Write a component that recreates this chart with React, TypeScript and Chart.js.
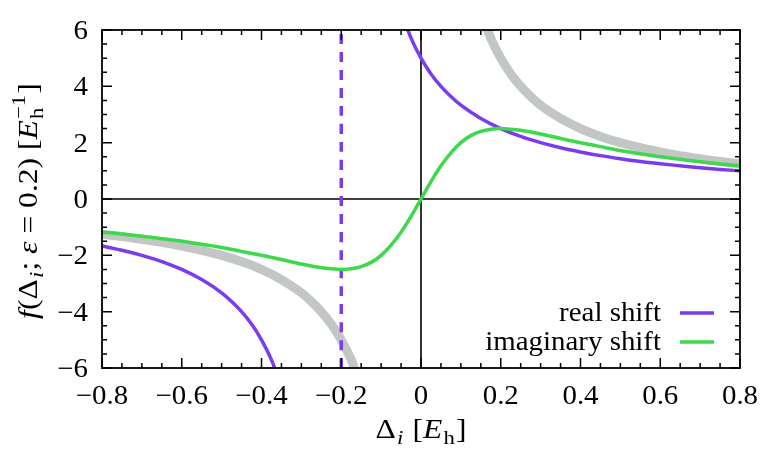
import React, { useEffect, useRef } from "react";
import { Chart, registerables } from "chart.js";

Chart.register(...registerables);

// ---- data ----
const imagX = [-0.8, -0.75, -0.7, -0.65, -0.6, -0.55, -0.5, -0.45, -0.4, -0.35, -0.3, -0.25, -0.225, -0.2, -0.175, -0.15, -0.125, -0.1, -0.075, -0.05, -0.025, 0, 0.025, 0.05, 0.075, 0.1, 0.125, 0.15, 0.175, 0.2, 0.225, 0.25, 0.3, 0.35, 0.4, 0.45, 0.5, 0.55, 0.6, 0.65, 0.7, 0.75, 0.8];
const imagY = [-1.18, -1.24, -1.32, -1.41, -1.5, -1.61, -1.72, -1.86, -2.0, -2.15, -2.31, -2.44, -2.48, -2.5, -2.48, -2.4, -2.25, -2.0, -1.64, -1.18, -0.62, 0, 0.62, 1.18, 1.64, 2.0, 2.25, 2.4, 2.48, 2.5, 2.48, 2.44, 2.31, 2.15, 2.0, 1.86, 1.72, 1.61, 1.5, 1.41, 1.32, 1.24, 1.18];

const realLeftX = [-0.8, -0.75, -0.7, -0.65, -0.6, -0.55, -0.5, -0.475, -0.45, -0.425, -0.4, -0.375, -0.35];
const realLeftY = [-1.67, -1.82, -2.0, -2.22, -2.5, -2.86, -3.33, -3.64, -4.0, -4.44, -5.0, -5.71, -6.67];
const realRightX = [-0.05, -0.025, 0, 0.025, 0.05, 0.075, 0.1, 0.15, 0.2, 0.25, 0.3, 0.35, 0.4, 0.45, 0.5, 0.55, 0.6, 0.65, 0.7, 0.75, 0.8];
const realRightY = [6.67, 5.71, 5.0, 4.44, 4.0, 3.64, 3.33, 2.86, 2.5, 2.22, 2.0, 1.82, 1.67, 1.54, 1.43, 1.33, 1.25, 1.18, 1.11, 1.05, 1.0];

const bareLeftX = [-0.8, -0.75, -0.7, -0.65, -0.6, -0.55, -0.5, -0.45, -0.4, -0.35, -0.3, -0.275, -0.25, -0.225, -0.2, -0.175, -0.15];
const bareLeftY = [-1.25, -1.33, -1.43, -1.54, -1.67, -1.82, -2.0, -2.22, -2.5, -2.86, -3.33, -3.64, -4.0, -4.44, -5.0, -5.71, -6.67];
const bareRightX = [0.15, 0.175, 0.2, 0.225, 0.25, 0.275, 0.3, 0.35, 0.4, 0.45, 0.5, 0.55, 0.6, 0.65, 0.7, 0.75, 0.8];
const bareRightY = [6.67, 5.71, 5.0, 4.44, 4.0, 3.64, 3.33, 2.86, 2.5, 2.22, 2.0, 1.82, 1.67, 1.54, 1.43, 1.33, 1.25];

const poleX = [-0.2, -0.2];
const poleY = [-6, 6];

const xRange = [-0.8, 0.8];
const yRange = [-6, 6];
const xStep = 0.2;
const yStep = 2;

const legendLabels = ["real shift", "imaginary shift"];

// ---- styles ----
const PURPLE = "#7b3cf0";
const GREEN = "#3ed84c";
const GRAY = "#c2c6c4";
const FONT = '"Liberation Serif", "Times New Roman", serif';
const FS = 27;
const HSCALE = 1.07;
const TITLE_HSCALE = 1.17;

type Seg = { t?: string; it?: boolean; sub?: string; subIt?: boolean; sup?: string };

const fontOf = (size: number, italic?: boolean) => `${italic ? "italic " : ""}${size}px ${FONT}`;

function segWidth(ctx: CanvasRenderingContext2D, s: Seg, size: number) {
  if (s.t !== undefined) {
    ctx.font = fontOf(size, s.it);
    return ctx.measureText(s.t).width;
  }
  const ss = size * 0.72;
  let w = 0;
  if (s.sub) { ctx.font = fontOf(ss, s.subIt); w = Math.max(w, ctx.measureText(s.sub).width); }
  if (s.sup) { ctx.font = fontOf(ss, false); w = Math.max(w, ctx.measureText(s.sup).width); }
  return w + 2;
}

function drawRich(ctx: CanvasRenderingContext2D, segs: Seg[], size: number, align: "left" | "center" | "right") {
  const total = segs.reduce((a, s) => a + segWidth(ctx, s, size), 0);
  let x = align === "left" ? 0 : align === "center" ? -total / 2 : -total;
  ctx.textAlign = "left";
  ctx.textBaseline = "alphabetic";
  for (const s of segs) {
    const w = segWidth(ctx, s, size);
    if (s.t !== undefined) {
      ctx.font = fontOf(size, s.it);
      ctx.fillText(s.t, x, 0);
    } else {
      const ss = size * 0.72;
      if (s.sub) { ctx.font = fontOf(ss, s.subIt); ctx.fillText(s.sub, x + 1, size * 0.22); }
      if (s.sup) { ctx.font = fontOf(ss, false); ctx.fillText(s.sup, x + 1, -size * 0.45); }
    }
    x += w;
  }
}

function textAt(ctx: CanvasRenderingContext2D, segs: Seg[], x: number, y: number, align: "left" | "center" | "right", rot = 0, hs = HSCALE) {
  ctx.save();
  ctx.translate(x, y);
  if (rot) ctx.rotate(rot);
  ctx.scale(hs, 1);
  ctx.fillStyle = "#000";
  drawRich(ctx, segs, FS, align);
  ctx.restore();
}

const fmt = (v: number) => {
  const r = Math.round(v * 10) / 10;
  if (r === 0) return "0";
  const s = Math.abs(r).toString();
  return r < 0 ? "\u2212" + s : s;
};

const zeroLines = {
  id: "zeroLines",
  beforeDatasetsDraw(chart: any) {
    const { ctx, chartArea: a } = chart;
    const xs = chart.scales.x, ys = chart.scales.y;
    const x0 = xs.getPixelForValue(0), y0 = ys.getPixelForValue(0);
    ctx.save();
    ctx.strokeStyle = "#000";
    ctx.lineWidth = 1.6;
    ctx.beginPath();
    ctx.moveTo(a.left, y0); ctx.lineTo(a.right, y0);
    ctx.moveTo(x0, a.top); ctx.lineTo(x0, a.bottom);
    ctx.stroke();
    ctx.restore();
  },
};

const frameAndText = {
  id: "frameAndText",
  afterDatasetsDraw(chart: any) {
    const { ctx, chartArea: a } = chart;
    const xs = chart.scales.x, ys = chart.scales.y;
    ctx.save();
    ctx.strokeStyle = "#000";
    ctx.lineWidth = 1.8;
    ctx.strokeRect(a.left, a.top, a.right - a.left, a.bottom - a.top);

    const MAJ = 10, MIN = 5;
    ctx.lineWidth = 1.5;
    ctx.beginPath();
    const xv = xs.ticks.map((t: any) => t.value);
    xv.forEach((v: number, i: number) => {
      const px = xs.getPixelForValue(v);
      ctx.moveTo(px, a.bottom); ctx.lineTo(px, a.bottom - MAJ);
      ctx.moveTo(px, a.top); ctx.lineTo(px, a.top + MAJ);
      if (i < xv.length - 1) {
        for (let k = 1; k < 4; k++) {
          const m = xs.getPixelForValue(v + ((xv[i + 1] - v) * k) / 4);
          ctx.moveTo(m, a.bottom); ctx.lineTo(m, a.bottom - MIN);
          ctx.moveTo(m, a.top); ctx.lineTo(m, a.top + MIN);
        }
      }
    });
    const yv = ys.ticks.map((t: any) => t.value);
    yv.forEach((v: number, i: number) => {
      const py = ys.getPixelForValue(v);
      ctx.moveTo(a.left, py); ctx.lineTo(a.left + MAJ, py);
      ctx.moveTo(a.right, py); ctx.lineTo(a.right - MAJ, py);
      if (i < yv.length - 1) {
        for (let k = 1; k < 4; k++) {
          const m = ys.getPixelForValue(v + ((yv[i + 1] - v) * k) / 4);
          ctx.moveTo(a.left, m); ctx.lineTo(a.left + MIN, m);
          ctx.moveTo(a.right, m); ctx.lineTo(a.right - MIN, m);
        }
      }
    });
    ctx.stroke();

    // tick labels
    xv.forEach((v: number) => textAt(ctx, [{ t: fmt(v) }], xs.getPixelForValue(v), a.bottom + 36, "center"));
    yv.forEach((v: number) => textAt(ctx, [{ t: fmt(v) }], a.left - 14, ys.getPixelForValue(v) + 9, "right"));

    // axis titles
    textAt(ctx, [{ t: "Δ" }, { sub: "i", subIt: true }, { t: " [" }, { t: "E", it: true }, { sub: "h" }, { t: "]" }],
      (a.left + a.right) / 2, 438, "center", 0, TITLE_HSCALE);
    textAt(ctx,
      [{ t: "f", it: true }, { t: "(Δ" }, { sub: "i", subIt: true }, { t: "; " }, { t: "ε", it: true }, { t: " = 0.2) [" }, { t: "E", it: true }, { sub: "h", sup: "\u22121" }, { t: "]" }],
      37, (a.top + a.bottom) / 2 + 2, "center", -Math.PI / 2, TITLE_HSCALE);

    // legend
    const colors = [PURPLE, GREEN];
    const rows = [a.bottom - 55, a.bottom - 26];
    legendLabels.forEach((lab, i) => {
      textAt(ctx, [{ t: lab }], a.right - 79, rows[i] + 8, "right");
      ctx.strokeStyle = colors[i];
      ctx.lineWidth = 3.5;
      ctx.beginPath();
      ctx.moveTo(a.right - 60, rows[i]); ctx.lineTo(a.right - 26, rows[i]);
      ctx.stroke();
    });
    ctx.restore();
  },
};

const pts = (xs: number[], ys: number[]) => xs.map((x, i) => ({ x, y: ys[i] }));

export default function App() {
  const ref = useRef<HTMLCanvasElement | null>(null);
  useEffect(() => {
    if (!ref.current) return;
    const line = (data: any, color: string, width: number, extra: any = {}) => ({
      data, borderColor: color, borderWidth: width, pointRadius: 0, fill: false,
      cubicInterpolationMode: "monotone", clip: 0, ...extra,
    });
    const chart = new Chart(ref.current, {
      type: "line",
      data: {
        datasets: [
          line(pts(imagX, imagY), GREEN, 3.5),
          line(pts(realLeftX, realLeftY), PURPLE, 3.5),
          line(pts(realRightX, realRightY), PURPLE, 3.5),
          line(pts(poleX, poleY), PURPLE, 3.5, { borderDash: [10, 8] }),
          line(pts(bareLeftX, bareLeftY), GRAY, 9),
          line(pts(bareRightX, bareRightY), GRAY, 9),
        ] as any,
      },
      options: {
        responsive: false,
        animation: false,
        devicePixelRatio: 1,
        layout: { padding: { top: 30, right: 36, left: 0, bottom: 0 } },
        plugins: { legend: { display: false }, tooltip: { enabled: false } },
        scales: {
          x: {
            type: "linear", min: xRange[0], max: xRange[1],
            ticks: { display: false, stepSize: xStep },
            grid: { display: false, drawTicks: false }, border: { display: false },
            afterFit: (s: any) => { s.height = 92; },
          },
          y: {
            type: "linear", min: yRange[0], max: yRange[1],
            ticks: { display: false, stepSize: yStep },
            grid: { display: false, drawTicks: false }, border: { display: false },
            afterFit: (s: any) => { s.width = 102; },
          },
        },
      } as any,
      plugins: [zeroLines, frameAndText],
    });
    return () => chart.destroy();
  }, []);
  return (
    <div style={{ position: "fixed", left: 0, top: 0, width: 776, height: 460, background: "#fff" }}>
      <canvas ref={ref} width={776} height={460} style={{ display: "block" }} />
    </div>
  );
}
